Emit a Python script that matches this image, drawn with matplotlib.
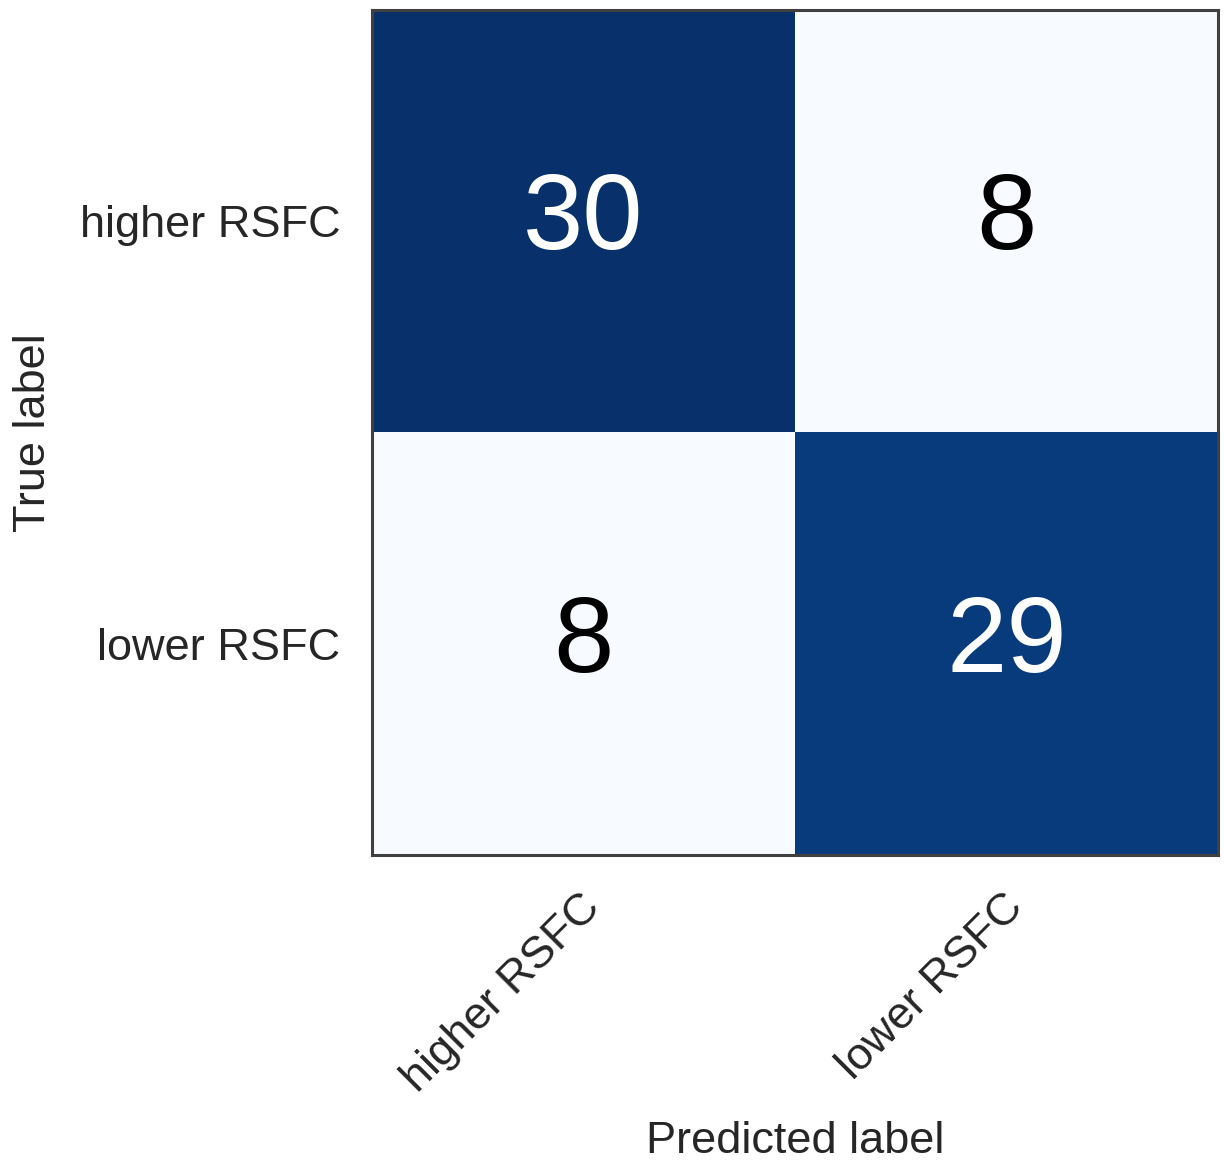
import numpy as np
import matplotlib
matplotlib.use("Agg")
import matplotlib.pyplot as plt
import matplotlib.transforms as mtransforms
import seaborn as sns

sns.set_style("white")
plt.rcParams['font.family'] = ['Liberation Sans', 'DejaVu Sans']

# confusion matrix values (rows = true, cols = predicted)
classes = ["higher RSFC", "lower RSFC"]
cm = np.array([[30, 8],
               [8, 29]])

fig = plt.figure(figsize=(12.24, 11.65), dpi=100)
ax = fig.add_axes([0.304, 0.2661, 0.691, 0.7253])

ax.imshow(cm, interpolation="nearest", cmap=plt.cm.Blues, aspect="auto")

thresh = cm.max() / 2.0
for i in range(cm.shape[0]):
    for j in range(cm.shape[1]):
        ax.text(j, i, format(cm[i, j], "d"),
                ha="center", va="center", fontsize=78,
                color="white" if cm[i, j] > thresh else "black")

tick_marks = np.arange(len(classes))
ax.set_xticks(tick_marks)
ax.set_xticklabels(classes, rotation=45, ha="right", fontsize=32.5, color=".15")
ax.set_yticks(tick_marks)
ax.set_yticklabels(classes, fontsize=32.5, color=".15")
ax.tick_params(axis="y", length=0, pad=23)
ax.tick_params(axis="x", length=0, pad=12)

# nudge rotated x labels right/down
shift = mtransforms.ScaledTranslation(0.25, -0.15, fig.dpi_scale_trans)
for lab in ax.get_xticklabels():
    lab.set_transform(lab.get_transform() + shift)

for s in ax.spines.values():
    s.set_edgecolor(".25")
    s.set_linewidth(2.2)

ax.set_ylabel("True label", fontsize=32.5, color=".15")
ax.yaxis.set_label_coords(-0.376, 0.5)
ax.set_xlabel("Predicted label", fontsize=32.5, color=".15", labelpad=15)

fig.savefig("out.png", dpi=100)
